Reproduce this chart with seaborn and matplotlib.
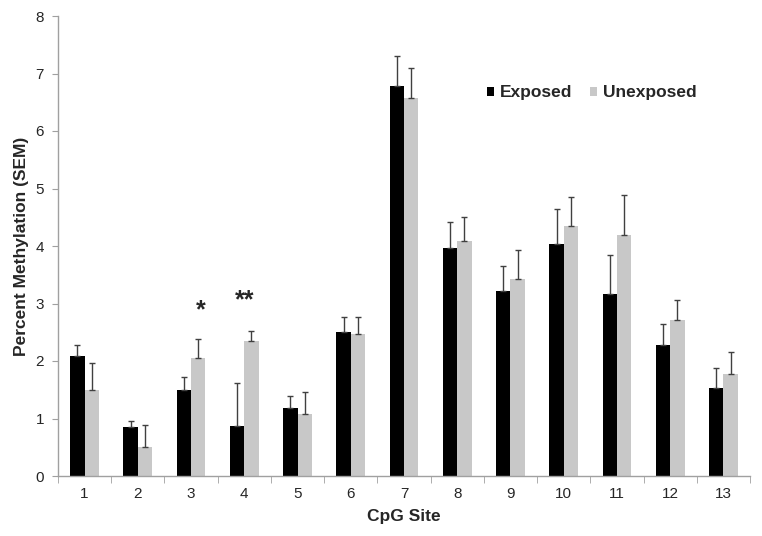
import matplotlib
matplotlib.use("Agg")
import matplotlib.pyplot as plt
import seaborn as sns
import pandas as pd
import numpy as np

sites = [str(i) for i in range(1, 14)]
exposed = [2.08, 0.85, 1.50, 0.87, 1.18, 2.50, 6.78, 3.96, 3.22, 4.03, 3.17, 2.28, 1.53]
exposed_sem = [0.19, 0.11, 0.23, 0.75, 0.22, 0.26, 0.52, 0.45, 0.43, 0.61, 0.67, 0.37, 0.35]
unexposed = [1.50, 0.51, 2.06, 2.34, 1.07, 2.47, 6.58, 4.08, 3.43, 4.34, 4.19, 2.72, 1.77]
unexposed_sem = [0.46, 0.38, 0.33, 0.19, 0.39, 0.29, 0.52, 0.42, 0.50, 0.52, 0.69, 0.34, 0.39]
groups = ["Exposed", "Unexposed"]
colors = ["#000000", "#c8c8c8"]

sns.set_style("white")
plt.rcParams['font.family'] = ['Liberation Sans', 'DejaVu Sans']

df = pd.DataFrame({
    "site": sites * 2,
    "group": [groups[0]] * 13 + [groups[1]] * 13,
    "value": exposed + unexposed,
})

fig = plt.figure(figsize=(7.62, 5.36), dpi=100)
ax = fig.add_axes([58/762, 60/536, 692/762, 460/536])
sns.barplot(data=df, x="site", y="value", hue="group", palette=colors,
            width=0.54, gap=0, errorbar=None, ax=ax, saturation=1, linewidth=0)

sems = [exposed_sem, unexposed_sem]
vals = [exposed, unexposed]
bar_containers = list(ax.containers)
for ci, cont in enumerate(bar_containers):
    xs = [p.get_x() + p.get_width() / 2 for p in cont.patches]
    ax.errorbar(xs, vals[ci], yerr=[np.zeros(13), sems[ci]], fmt="none",
                ecolor="#404040", elinewidth=1.0, capsize=2.5, capthick=1.0)

ax.set_ylim(0, 8)
ax.set_xlim(-0.5, 12.5)
ax.set_yticks(range(0, 9))
ax.tick_params(axis="y", which="major", left=True, length=4, color="#a0a0a0",
               labelsize=11, pad=6)
ax.tick_params(axis="x", which="major", bottom=False, length=0, labelsize=11, pad=8)
ax.set_xticks(np.arange(-0.5, 13, 1), minor=True)
ax.tick_params(axis="x", which="minor", bottom=True, length=5, color="#a0a0a0")
for s in ["top", "right"]:
    ax.spines[s].set_visible(False)
for s in ["left", "bottom"]:
    ax.spines[s].set_color("#a0a0a0")
    ax.spines[s].set_linewidth(1.0)

ax.set_xlabel("CpG Site", fontsize=12.5, fontweight="bold", labelpad=6)
ax.set_ylabel("Percent Methylation (SEM)", fontsize=12.5, fontweight="bold", labelpad=5)

# significance markers
ax.text(2.18, 2.68, "*", ha="center", va="bottom", fontsize=18, fontweight="bold")
ax.text(3.0, 2.85, "**", ha="center", va="bottom", fontsize=18, fontweight="bold")

leg = ax.legend(loc="center left", bbox_to_anchor=(478/762, 1 - 93/536),
                bbox_transform=fig.transFigure, ncol=2, frameon=False, borderpad=0,
                fontsize=12.5, handlelength=0.43, handleheight=0.43, handletextpad=0.35,
                columnspacing=1.0)
for t in leg.get_texts():
    t.set_fontweight("bold")

fig.savefig("out.png", dpi=100)
